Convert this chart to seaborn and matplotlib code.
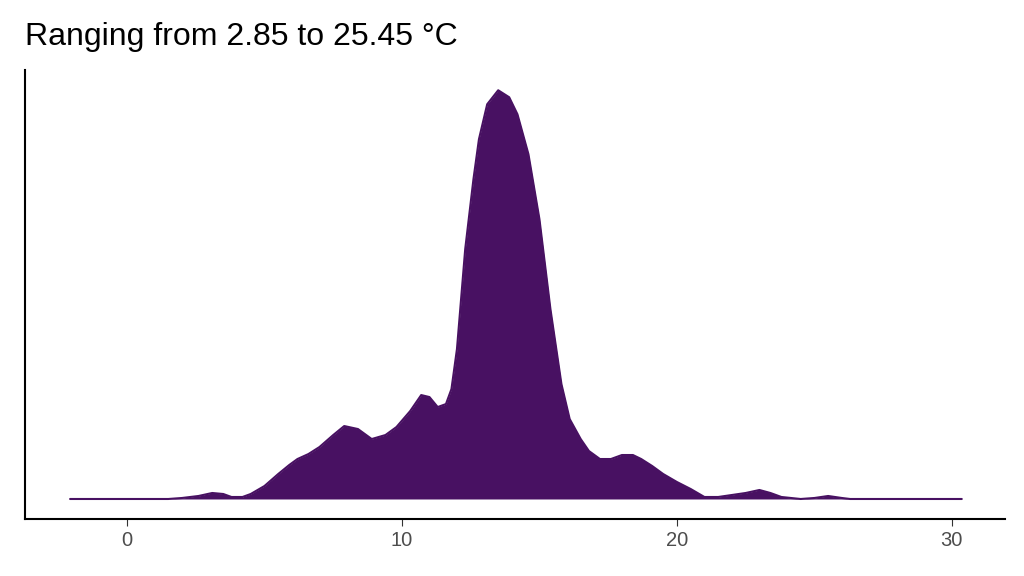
import numpy as np
import pandas as pd
import seaborn as sns
import matplotlib.pyplot as plt

# density curve (temperature in °C, relative density)
temp = [-2.07, 1.5, 2.0, 2.6, 3.1, 3.5, 3.8, 4.2, 4.5, 5.0, 5.5, 5.9, 6.2, 6.6, 7.0, 7.5, 7.9,
        8.4, 8.9, 9.4, 9.8, 10.3, 10.7, 11.0, 11.3, 11.6, 11.8, 12.0, 12.3, 12.6, 12.8, 13.1,
        13.5, 13.9, 14.2, 14.6, 15.0, 15.4, 15.8, 16.1, 16.5, 16.8, 17.2, 17.6, 18.0, 18.4,
        18.7, 19.1, 19.5, 20.0, 20.5, 21.0, 21.5, 22.0, 22.5, 23.0, 23.4, 23.8, 24.5, 25.0,
        25.5, 26.0, 26.3, 30.36]
dens = [0, 0, 1, 3, 6, 5, 2, 2, 5, 13, 25, 34, 40, 45, 52, 64, 73,
        70, 60, 64, 72, 88, 104, 102, 92, 95, 110, 150, 250, 320, 360, 395,
        409, 402, 385, 345, 280, 190, 115, 80, 60, 48, 40, 40, 44, 44,
        40, 33, 25, 17, 10, 2, 2, 4, 6, 9, 6, 2, 0, 1,
        3, 1, 0, 0]
x_ticks = [0, 10, 20, 30]
title = "Ranging from 2.85 to 25.45 °C"

df = pd.DataFrame({"temp": temp, "density": np.array(dens) / 409 * 0.145})
color = "#481162"

sns.set_style("white")
plt.rcParams['font.family'] = ['Liberation Sans', 'DejaVu Sans']
fig = plt.figure(figsize=(10.24, 5.76), dpi=100)
ax = fig.add_axes([0.0244, 0.099, 0.957, 0.779])
ax.fill_between(df["temp"], df["density"], color=color, lw=0)
sns.lineplot(data=df, x="temp", y="density", color=color, lw=1.5, ax=ax)

ax.set_xlim(-3.71, 31.93)
ax.set_ylim(-20 / 409 * 0.145, 429 / 409 * 0.145)
ax.set_xticks(x_ticks)
ax.set_xticklabels([str(t) for t in x_ticks], fontsize=14.5, color="#4d4d4d")
ax.set_yticks([])
ax.set_xlabel("")
ax.set_ylabel("")
ax.tick_params(axis="x", direction="out", length=5, color="#333333", bottom=True)
for s in ["top", "right"]:
    ax.spines[s].set_visible(False)
for s in ["left", "bottom"]:
    ax.spines[s].set_color("black")
    ax.spines[s].set_linewidth(1.5)
fig.text(0.024, 0.922, title, fontsize=23, color="black")

fig.savefig("out.png", dpi=100)
